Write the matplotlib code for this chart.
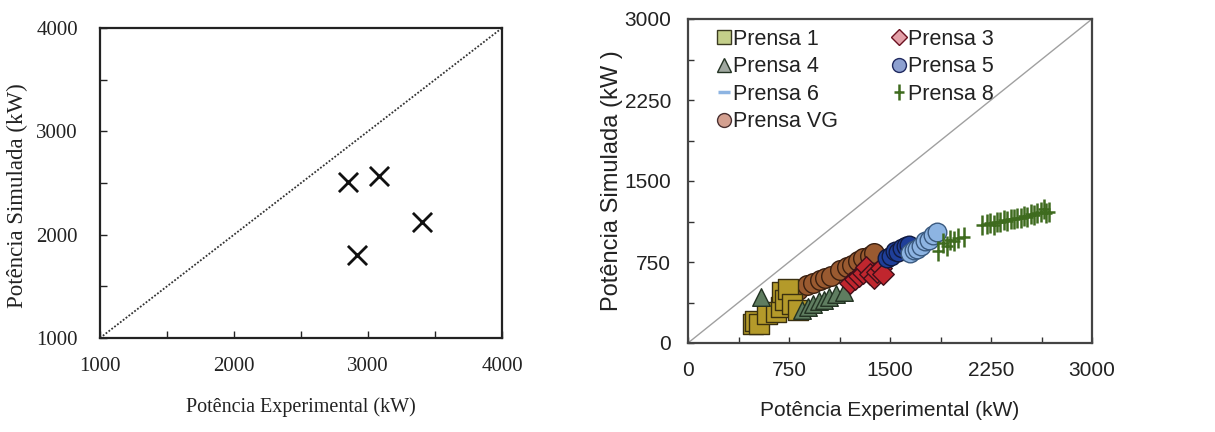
import matplotlib
matplotlib.use("Agg")
import matplotlib.pyplot as plt
from matplotlib.lines import Line2D
from matplotlib.ticker import MultipleLocator
from matplotlib.path import Path

# ---- Left panel data ----
left_exp = [2850, 3080, 3400, 2920]
left_sim = [2510, 2570, 2120, 1800]
left_ticks = [1000, 2000, 3000, 4000]

# ---- Right panel data ----
p1_x = [480, 500, 530, 590, 650, 690, 700, 720, 740, 775, 820]
p1_y = [175, 200, 180, 265, 285, 330, 470, 400, 500, 360, 310]

p3_x = [1200, 1240, 1270, 1300, 1320, 1350, 1380, 1400, 1430, 1450]
p3_y = [560, 590, 620, 650, 700, 640, 600, 660, 690, 640]

p4_x = [540, 850, 890, 925, 975, 1010, 1050, 1100, 1160]
p4_y = [430, 310, 330, 360, 390, 400, 425, 455, 470]

p5_x = [1480, 1510, 1540, 1560, 1590, 1620, 1640]
p5_y = [790, 810, 850, 840, 880, 900, 910]

p6_x = [1650, 1680, 1700, 1730, 1760, 1790, 1820, 1850]
p6_y = [830, 860, 870, 900, 940, 950, 1000, 1030]

p8_x = [1855, 1890, 1920, 1945, 1975, 2005, 2050,
        2180, 2220, 2245, 2270, 2295, 2320, 2345, 2370, 2395, 2420, 2445,
        2470, 2495, 2520, 2545, 2570, 2595, 2620, 2640, 2660, 2680]
p8_y = [850, 930, 900, 955, 940, 970, 980,
        1090, 1100, 1110, 1095, 1125, 1120, 1135, 1130, 1150, 1145, 1160,
        1155, 1175, 1170, 1190, 1185, 1200, 1210, 1240, 1205, 1215]

vg_x = [720, 770, 820, 880, 930, 980, 1020, 1060, 1130, 1180, 1220, 1260, 1300, 1350, 1380]
vg_y = [460, 500, 490, 540, 560, 580, 600, 620, 680, 700, 720, 760, 790, 810, 830]

right_ticks = [0, 750, 1500, 2250, 3000]

sans = ["Liberation Sans", "DejaVu Sans"]
serif = ["Liberation Serif", "DejaVu Serif"]

# tall plus marker (vertical longer than horizontal)
tall_plus = Path([(-0.6, 0), (0.6, 0), (0, -1), (0, 1)],
                 [Path.MOVETO, Path.LINETO, Path.MOVETO, Path.LINETO])

fig = plt.figure(figsize=(12.15, 4.32), dpi=100)

# ---------------- Left panel ----------------
axL = fig.add_axes([100 / 1215, 1 - 338 / 432, 402 / 1215, 310 / 432])
axL.plot([1000, 4000], [1000, 4000], linestyle=(0, (1, 1)), color="#333333", lw=1.3)
axL.scatter(left_exp, left_sim, marker="x", s=190, color="#111111", linewidths=2.0, zorder=3)
axL.set_xlim(1000, 4000)
axL.set_ylim(1000, 4000)
axL.set_xticks(left_ticks)
axL.set_yticks(left_ticks)
axL.xaxis.set_minor_locator(MultipleLocator(500))
axL.yaxis.set_minor_locator(MultipleLocator(500))
axL.tick_params(which="both", direction="in", length=5, width=1.0, color="#222222")
axL.tick_params(which="major", labelsize=15, pad=14, labelcolor="#222222")
axL.tick_params(axis="y", which="major", pad=16)
for lab in axL.get_xticklabels() + axL.get_yticklabels():
    lab.set_family(serif)
for sp in axL.spines.values():
    sp.set_linewidth(1.6)
    sp.set_color("#222222")
axL.set_xlabel("Potência Experimental (kW)", family=serif, fontsize=14.5, color="#222222")
axL.set_ylabel("Potência Simulada (kW)", family=serif, fontsize=16.5, color="#222222")
axL.xaxis.set_label_coords(0.5, -0.19)
axL.yaxis.set_label_coords(-0.18, 0.46)

# ---------------- Right panel ----------------
axR = fig.add_axes([688 / 1215, 1 - 343 / 432, 404 / 1215, 324 / 432])
axR.plot([0, 3000], [0, 3000], color="#a0a0a0", lw=1.0, zorder=1)

axR.scatter(p1_x, p1_y, marker="s", s=190, facecolor="#b49a2a", edgecolor="#3a3010", linewidths=1.0, zorder=3)
axR.scatter(p4_x, p4_y, marker="^", s=160, facecolor="#5f7d60", edgecolor="#233323", linewidths=1.0, zorder=3)
axR.scatter(vg_x, vg_y, marker="o", s=200, facecolor="#9a5a30", edgecolor="#3a1f10", linewidths=1.0, zorder=2)
axR.scatter(p3_x, p3_y, marker="D", s=120, facecolor="#c0262e", edgecolor="#40101a", linewidths=1.0, zorder=3)
axR.scatter(p5_x, p5_y, marker="o", s=180, facecolor="#1f3f99", edgecolor="#101a40", linewidths=1.0, zorder=3)
axR.scatter(p6_x, p6_y, marker="o", s=180, facecolor="#8db4e2", edgecolor="#3a5a80", linewidths=1.0, zorder=3)
axR.scatter(p8_x, p8_y, marker=tall_plus, s=200, color="#3e6b1e", linewidths=1.8, zorder=4)

axR.set_xlim(0, 3000)
axR.set_ylim(0, 3000)
axR.set_xticks(right_ticks)
axR.set_yticks(right_ticks)
axR.xaxis.set_minor_locator(MultipleLocator(375))
axR.yaxis.set_minor_locator(MultipleLocator(375))
axR.tick_params(which="both", direction="in", length=4, width=1.0, color="#333333")
axR.tick_params(which="major", labelsize=15, pad=13, labelcolor="#222222")
axR.tick_params(axis="y", which="major", pad=12)
for lab in axR.get_xticklabels() + axR.get_yticklabels():
    lab.set_family(sans)
for sp in axR.spines.values():
    sp.set_linewidth(1.6)
    sp.set_color("#444444")
axR.set_xlabel("Potência Experimental (kW)", family=sans, fontsize=15, color="#222222")
axR.set_ylabel("Potência Simulada (kW )", family=sans, fontsize=17, color="#222222")
axR.xaxis.set_label_coords(0.5, -0.18)
axR.yaxis.set_label_coords(-0.16, 0.5)

handles = [
    Line2D([], [], linestyle="none", marker="s", markersize=10, markerfacecolor="#c4cf8a", markeredgecolor="#3a3a20", label="Prensa 1"),
    Line2D([], [], linestyle="none", marker="^", markersize=10, markerfacecolor="#a0a8a0", markeredgecolor="#233323", label="Prensa 4"),
    Line2D([], [], linestyle="none", marker="_", markersize=8, markeredgewidth=2.5, color="#8db4e2", label="Prensa 6"),
    Line2D([], [], linestyle="none", marker="o", markersize=10, markerfacecolor="#d4a090", markeredgecolor="#4a3030", label="Prensa VG"),
    Line2D([], [], linestyle="none", marker="D", markersize=8, markerfacecolor="#e3a0a8", markeredgecolor="#6a1020", label="Prensa 3"),
    Line2D([], [], linestyle="none", marker="o", markersize=10, markerfacecolor="#8da0d0", markeredgecolor="#202a60", label="Prensa 5"),
    Line2D([], [], linestyle="none", marker=tall_plus, markersize=12, markeredgewidth=1.8, color="#3e6b1e", label="Prensa 8"),
]
leg = axR.legend(handles=handles, ncol=2, loc="upper left", bbox_to_anchor=(0.04, 1.01),
                 frameon=False, fontsize=15.5, handlelength=0.6, handletextpad=0.15,
                 columnspacing=2.5, labelspacing=0.3, borderaxespad=0.2)
for t in leg.get_texts():
    t.set_family(sans)
    t.set_color("#222222")

fig.savefig("out.png", dpi=100)
